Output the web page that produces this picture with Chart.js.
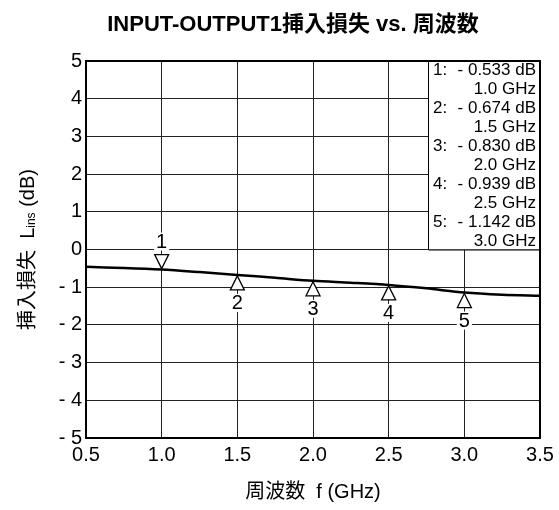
<!DOCTYPE html>
<html>
<head>
<meta charset="utf-8">
<script src="https://cdn.jsdelivr.net/npm/chart.js@4"></script>
<style>
html, body { margin: 0; padding: 0; background: #fff; }
</style>
</head>
<body>
<canvas id="chart" width="559" height="510"></canvas>
<script>
const chartTitle = "INPUT-OUTPUT1挿入損失 vs. 周波数";
const xTitle = "周波数  f (GHz)";
const yTitleMain = "挿入損失  L";
const yTitleSub = "ins";
const yTitleEnd = " (dB)";

// measured trace
const freqGHz = [0.5, 0.75, 1.0, 1.25, 1.5, 1.75, 2.0, 2.25, 2.5, 2.75, 3.0, 3.25, 3.5];
const lossDb = [-0.46, -0.49, -0.533, -0.60, -0.674, -0.75, -0.83, -0.88, -0.939, -1.03, -1.142, -1.20, -1.23];

// markers
const markerNo = [1, 2, 3, 4, 5];
const markerFreq = [1.0, 1.5, 2.0, 2.5, 3.0];
const markerLoss = [-0.533, -0.674, -0.830, -0.939, -1.142];

const xTicks = [0.5, 1.0, 1.5, 2.0, 2.5, 3.0, 3.5];
const yTicks = [5, 4, 3, 2, 1, 0, -1, -2, -3, -4, -5];

const FONT = '"Liberation Sans", Arial, "Noto Sans CJK JP", sans-serif';
Chart.defaults.font.family = FONT;
Chart.defaults.color = "#000";

const overlay = {
    id: "overlay",
    afterDraw(chart) {
        const {ctx, chartArea: a, scales: {x, y}} = chart;
        ctx.save();

        // marker readout box
        const boxLeft = 428;
        const boxBottom = y.getPixelForValue(0);
        ctx.fillStyle = "#fff";
        ctx.fillRect(boxLeft, a.top, a.right - boxLeft, boxBottom - a.top);
        ctx.strokeStyle = "#000";
        ctx.lineWidth = 1;
        ctx.beginPath();
        ctx.moveTo(boxLeft + 0.5, a.top);
        ctx.lineTo(boxLeft + 0.5, boxBottom + 0.5);
        ctx.lineTo(a.right, boxBottom + 0.5);
        ctx.stroke();

        ctx.font = "17px " + FONT;
        ctx.fillStyle = "#000";
        ctx.textBaseline = "middle";
        markerNo.forEach((n, i) => {
            const rowY = a.top + 9 + i * 38;
            ctx.textAlign = "left";
            ctx.fillText(n + ":", boxLeft + 5, rowY);
            ctx.textAlign = "right";
            ctx.fillText("- " + Math.abs(markerLoss[i]).toFixed(3) + " dB", a.right - 4, rowY);
            ctx.fillText(markerFreq[i].toFixed(1) + " GHz", a.right - 4, rowY + 19);
        });

        // markers on the trace
        ctx.font = "20px " + FONT;
        ctx.textAlign = "center";
        markerFreq.forEach((f, i) => {
            const px = x.getPixelForValue(f);
            const py = y.getPixelForValue(markerLoss[i]);
            const dir = i === 0 ? -1 : 1;
            const tip = py + dir * 1;
            const base = tip + dir * 14;
            ctx.beginPath();
            ctx.moveTo(px, tip);
            ctx.lineTo(px - 7, base);
            ctx.lineTo(px + 7, base);
            ctx.closePath();
            ctx.fillStyle = "#fff";
            ctx.fill();
            ctx.lineWidth = 1.3;
            ctx.strokeStyle = "#000";
            ctx.stroke();

            const ly = base + dir * 13;
            const label = String(markerNo[i]);
            const w = ctx.measureText(label).width;
            ctx.fillStyle = "#fff";
            ctx.fillRect(px - w / 2 - 2, ly - 9, w + 4, 18);
            ctx.fillStyle = "#000";
            ctx.fillText(label, px, ly + 1);
        });

        // frame
        ctx.lineWidth = 2;
        ctx.strokeStyle = "#000";
        ctx.strokeRect(a.left, a.top, a.right - a.left, a.bottom - a.top);

        // chart title
        ctx.font = "bold 22px " + FONT;
        ctx.textAlign = "center";
        ctx.textBaseline = "middle";
        ctx.fillText(chartTitle, 293, 25);

        // y axis title with subscript
        ctx.translate(27, (a.top + a.bottom) / 2);
        ctx.rotate(-Math.PI / 2);
        const big = "20px " + FONT;
        const small = "12px " + FONT;
        ctx.font = big;
        const w1 = ctx.measureText(yTitleMain).width;
        const w3 = ctx.measureText(yTitleEnd).width;
        ctx.font = small;
        const w2 = ctx.measureText(yTitleSub).width;
        let cx = -(w1 + w2 + w3) / 2;
        ctx.textAlign = "left";
        ctx.textBaseline = "alphabetic";
        ctx.font = big;
        ctx.fillText(yTitleMain, cx, 7);
        cx += w1;
        ctx.font = small;
        ctx.fillText(yTitleSub, cx, 8);
        cx += w2;
        ctx.font = big;
        ctx.fillText(yTitleEnd, cx, 7);
        ctx.restore();
    }
};

new Chart(document.getElementById("chart"), {
    type: "line",
    data: {
        datasets: [{
            label: "Insertion loss",
            data: freqGHz.map((f, i) => ({x: f, y: lossDb[i]})),
            borderColor: "#000",
            borderWidth: 2.5,
            pointRadius: 0,
            tension: 0.3,
            fill: false
        }]
    },
    options: {
        responsive: false,
        animation: false,
        layout: {
            padding: {top: 61, right: 19, left: 0, bottom: 0}
        },
        plugins: {
            legend: {display: false},
            title: {display: false},
            tooltip: {enabled: false}
        },
        scales: {
            x: {
                type: "linear",
                min: xTicks[0],
                max: xTicks[xTicks.length - 1],
                afterBuildTicks: axis => { axis.ticks = xTicks.map(v => ({value: v})); },
                afterFit: axis => { axis.height = 72; },
                grid: {color: "#222", lineWidth: 1, drawTicks: false},
                border: {color: "#000", width: 2},
                ticks: {
                    padding: 5,
                    font: {size: 20},
                    maxRotation: 0,
                    autoSkip: false,
                    callback: v => Number(v).toFixed(1)
                },
                title: {
                    display: true,
                    text: xTitle,
                    font: {size: 20},
                    padding: {top: 0, bottom: 6}
                }
            },
            y: {
                min: yTicks[yTicks.length - 1],
                max: yTicks[0],
                afterBuildTicks: axis => { axis.ticks = yTicks.slice().reverse().map(v => ({value: v})); },
                afterFit: axis => { axis.width = 86; },
                grid: {color: "#222", lineWidth: 1, drawTicks: false},
                border: {color: "#000", width: 2},
                ticks: {
                    padding: 4,
                    font: {size: 20},
                    autoSkip: false,
                    callback: v => v < 0 ? "- " + Math.abs(v) : String(v)
                }
            }
        }
    },
    plugins: [overlay]
});
</script>
</body>
</html>
